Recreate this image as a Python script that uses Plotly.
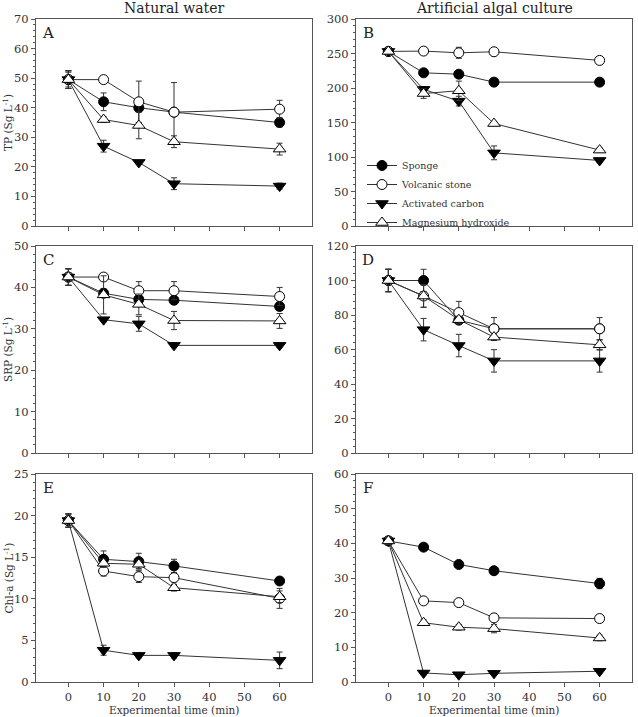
import plotly.graph_objects as go
from plotly.subplots import make_subplots

time_min = [0, 10, 20, 30, 60]
series_names = ["Sponge", "Volcanic stone", "Activated carbon", "Magnesium hydroxide"]
x_ticks = [0, 10, 20, 30, 40, 50, 60]

# Panel A: TP, natural water (order: Sponge, Volcanic, Activated, Mg)
tp_nat = [[49.5, 42, 40, 38.5, 35], [49.5, 49.5, 42, 38.5, 39.5],
          [49.5, 27, 21.5, 14.3, 13.5], [49.5, 36, 34, 28.5, 26]]
tp_nat_err = [[3, 3, 1, 0.5, 1.5], [2.5, 0.5, 7, 10, 3],
              [3, 2, 0.5, 2, 1], [3, 1, 4.5, 2, 2]]
# Panel B: TP, artificial algal culture
tp_alg = [[253, 222, 220, 208.5, 208.5], [253, 253.5, 251, 252.5, 240],
          [253, 198, 181, 106, 95], [253, 192, 196, 148.5, 110]]
tp_alg_err = [[4, 2, 2, 2, 2], [4, 2, 8, 2, 2],
              [4, 4, 7, 10, 3], [4, 7, 14, 3, 3]]
# Panel C: SRP, natural water
srp_nat = [[42.5, 38.6, 37.1, 36.9, 35.4], [42.5, 42.5, 39.2, 39.2, 37.8],
           [42.5, 32.2, 31.2, 26.0, 26.0], [42.5, 38.2, 35.9, 32.0, 31.9]]
srp_nat_err = [[2, 1, 1, 1, 1], [2, 0.5, 2.2, 2.2, 2.2],
               [2, 0.5, 1.8, 0.5, 0.5], [2, 4.6, 2.5, 2.2, 1.8]]
# Panel D: SRP, artificial algal culture
srp_alg = [[100, 100, 77, 72, 72], [100, 91, 81.4, 72, 72],
           [100, 71.5, 62.3, 53.4, 53.4], [100, 91, 77.3, 67.2, 62.7]]
srp_alg_err = [[6.5, 6.5, 2, 2, 2], [6.5, 6.5, 6.5, 6.5, 6.5],
               [6.5, 6.5, 6.5, 6.5, 6.5], [6.5, 6.5, 2, 2, 3]]
# Panel E: Chl-a, natural water
chl_nat = [[19.4, 14.75, 14.47, 13.95, 12.14], [19.4, 13.34, 12.66, 12.54, 10.05],
           [19.4, 3.82, 3.2, 3.2, 2.6], [19.4, 14.27, 14.15, 11.33, 10.25]]
chl_nat_err = [[0.8, 1, 1, 0.8, 0.4], [0.8, 0.6, 0.7, 0.5, 1.2],
               [0.8, 0.6, 0.3, 0.3, 1], [0.8, 0.5, 0.5, 0.4, 0.7]]
# Panel F: Chl-a, artificial algal culture
chl_alg = [[40.7, 38.9, 33.9, 32.1, 28.4], [40.7, 23.4, 22.9, 18.5, 18.3],
           [40.7, 2.6, 2.1, 2.5, 3.1], [40.7, 17.1, 15.8, 15.4, 12.7]]
chl_alg_err = [[1, 0.8, 0.8, 0.8, 1.5], [1, 0.8, 0.8, 0.8, 0.8],
               [1, 0.5, 0.5, 0.5, 0.5], [1, 0.8, 0.8, 1.2, 0.8]]

panels = [
    (1, 1, tp_nat, tp_nat_err, [0, 70], 10, 2, "A"),
    (1, 2, tp_alg, tp_alg_err, [0, 300], 50, 10, "B"),
    (2, 1, srp_nat, srp_nat_err, [0, 50], 10, 2, "C"),
    (2, 2, srp_alg, srp_alg_err, [0, 120], 20, 4, "D"),
    (3, 1, chl_nat, chl_nat_err, [0, 25], 5, 1, "E"),
    (3, 2, chl_alg, chl_alg_err, [0, 60], 10, 2, "F"),
]

W, H = 638, 717
col_px = {1: (36, 312), 2: (356, 632)}
row_px = {1: (19, 226), 2: (246, 453), 3: (474, 682)}

symbols = ["circle", "circle", "triangle-down", "triangle-up"]
fills = ["black", "white", "black", "white"]
FONT = "DejaVu Serif"
AX = "#555555"

fig = make_subplots(rows=3, cols=2)

for (r, c, vals, errs, yr, dt, mdt, letter) in panels:
    for i in range(4):
        fig.add_trace(go.Scatter(
            x=time_min, y=vals[i], name=series_names[i],
            mode="lines+markers",
            line=dict(color="#333333", width=1),
            marker=dict(symbol=symbols[i], size=10 if i in (0, 1) else 11,
                        color=fills[i], line=dict(color="black", width=1)),
            error_y=dict(type="data", array=errs[i], color="#333333",
                         thickness=1, width=3),
            showlegend=(r == 1 and c == 2),
        ), row=r, col=c)
    x0, x1 = col_px[c]
    y0, y1 = row_px[r]
    fig.update_xaxes(domain=[x0 / W, x1 / W], range=[-9.2, 69.2],
                     tickvals=x_ticks, showticklabels=(r == 3),
                     ticks="outside", ticklen=4, tickcolor=AX,
                     showline=True, linecolor=AX, mirror=True, linewidth=1,
                     showgrid=False, zeroline=False,
                     tickfont=dict(family=FONT, size=11.5, color="#333"),
                     row=r, col=c)
    fig.update_yaxes(domain=[1 - y1 / H, 1 - y0 / H], range=yr, dtick=dt,
                     ticks="outside", ticklen=4, tickcolor=AX,
                     minor=dict(dtick=mdt, ticks="outside", ticklen=2, tickcolor=AX),
                     showline=True, linecolor=AX, mirror=True, linewidth=1,
                     showgrid=False, zeroline=False,
                     tickfont=dict(family=FONT, size=11.5, color="#333"),
                     row=r, col=c)
    fig.add_annotation(x=(x0 + 12) / W, y=1 - (y0 + 14) / H, xref="paper", yref="paper",
                       text=letter, showarrow=False, xanchor="center", yanchor="middle",
                       font=dict(family=FONT, size=15, color="#222"))

for r, lbl in [(1, "TP (Sg L<sup>-1</sup>)"), (2, "SRP (Sg L<sup>-1</sup>)"),
               (3, "Chl-a (Sg L<sup>-1</sup>)")]:
    y0, y1 = row_px[r]
    fig.add_annotation(x=7.5 / W, y=1 - (y0 + y1) / 2 / H, xref="paper", yref="paper",
                       text=lbl, textangle=-90, showarrow=False,
                       xanchor="center", yanchor="middle",
                       font=dict(family=FONT, size=10.5, color="#333"))

for c, t in [(1, "Natural water"), (2, "Artificial algal culture")]:
    x0, x1 = col_px[c]
    fig.add_annotation(x=(x0 + x1) / 2 / W, y=1 - 8 / H, xref="paper", yref="paper",
                       text=t, showarrow=False, xanchor="center", yanchor="middle",
                       font=dict(family=FONT, size=14, color="#222"))
    fig.add_annotation(x=(x0 + x1) / 2 / W, y=1 - 710 / H, xref="paper", yref="paper",
                       text="Experimental time (min)", showarrow=False,
                       xanchor="center", yanchor="middle",
                       font=dict(family=FONT, size=10.5, color="#333"))

fig.update_layout(
    width=W, height=H, template="none",
    margin=dict(l=0, r=0, t=0, b=0),
    paper_bgcolor="white", plot_bgcolor="white",
    legend=dict(x=362 / W, y=1 - 151 / H, xanchor="left", yanchor="top",
                bgcolor="rgba(0,0,0,0)", font=dict(family=FONT, size=9.5, color="#333"),
                tracegroupgap=0, itemwidth=30),
    showlegend=True,
)

fig.write_html("out.html")
